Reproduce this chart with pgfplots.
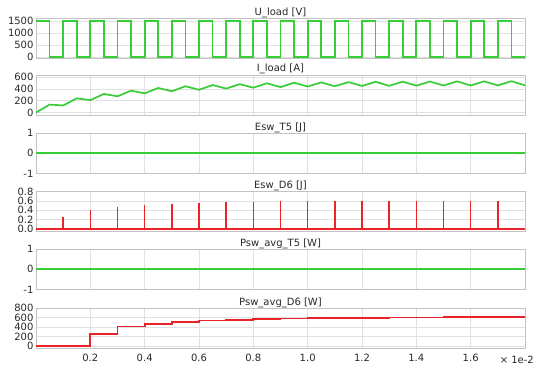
\documentclass[border=0pt]{standalone}
\usepackage{pgfplots}
\pgfplotsset{compat=1.18}
\usepackage{fontspec}
\setmainfont{DejaVu Sans}
\definecolor{lgreen}{RGB}{55,205,55}
\definecolor{lred}{RGB}{235,35,40}
\definecolor{gridc}{RGB}{225,225,225}
\definecolor{framec}{RGB}{195,195,195}
\definecolor{txt}{RGB}{40,40,40}
\pgfplotsset{panel/.style={
  scale only axis, width=489pt, height=40.5pt,
  xmin=0, xmax=1.8,
  xtick={0.2,0.4,0.6,0.8,1.0,1.2,1.4,1.6},
  xticklabels={},
  grid=major, major grid style={gridc, line width=0.6pt},
  axis line style={framec, line width=0.8pt},
  tick style={draw=none},
  tick label style={font=\fontsize{10}{11}\selectfont, text=txt},
  yticklabel style={xshift=1pt},
  /pgf/number format/assume math mode=true,
  /pgf/number format/1000 sep={},
  every axis title/.style={at={(0.5,1)}, anchor=base, yshift=3pt, inner sep=0pt, font=\fontsize{10}{11}\selectfont, text=txt},
  anchor=north west,
  clip mode=individual,
  every axis plot/.append style={line width=1.7pt, line join=miter},
}}
\begin{document}
\begin{tikzpicture}
\useasboundingbox (0,0) rectangle (533pt,365pt);
% U_load
\begin{axis}[panel, at={(36pt,347pt)}, ymin=-70, ymax=1620, ytick={0,500,1000,1500}, title={U\_load [V]}]
\addplot[lgreen, const plot] coordinates {
(0,1500)(0.05,0)(0.1,1500)(0.15,0)(0.2,1500)(0.25,0)(0.3,1500)(0.35,0)(0.4,1500)(0.45,0)
(0.5,1500)(0.55,0)(0.6,1500)(0.65,0)(0.7,1500)(0.75,0)(0.8,1500)(0.85,0)(0.9,1500)(0.95,0)
(1.0,1500)(1.05,0)(1.1,1500)(1.15,0)(1.2,1500)(1.25,0)(1.3,1500)(1.35,0)(1.4,1500)(1.45,0)
(1.5,1500)(1.55,0)(1.6,1500)(1.65,0)(1.7,1500)(1.75,0)(1.8,0)};
\end{axis}
% I_load
\begin{axis}[panel, at={(36pt,290pt)}, ymin=-50, ymax=635, ytick={0,200,400,600}, title={I\_load [A]}]
\addplot[lgreen] coordinates {
(0,0)(0.05,135)(0.1,120)(0.15,240)(0.2,210)(0.25,315)(0.3,275)(0.35,370)(0.4,325)(0.45,415)
(0.5,360)(0.55,445)(0.6,385)(0.65,465)(0.7,405)(0.75,480)(0.8,420)(0.85,495)(0.9,430)(0.95,505)
(1.0,440)(1.05,510)(1.1,445)(1.15,515)(1.2,450)(1.25,520)(1.3,452)(1.35,522)(1.4,455)(1.45,525)
(1.5,457)(1.55,527)(1.6,458)(1.65,528)(1.7,459)(1.75,530)(1.8,460)};
\end{axis}
% Esw_T5
\begin{axis}[panel, at={(36pt,232pt)}, ymin=-1, ymax=1, ytick={-1,0,1}, title={Esw\_T5 [J]}]
\addplot[lgreen] coordinates {(0,0)(1.8,0)};
\end{axis}
% Esw_D6
\begin{axis}[panel, at={(36pt,174pt)}, ymin=-0.05, ymax=0.81, ytick={0,0.2,0.4,0.6,0.8},
  yticklabel style={/pgf/number format/.cd, fixed, fixed zerofill, precision=1},
  title={Esw\_D6 [J]}]
\addplot[lred] coordinates {(0,0)(1.8,0)};
\addplot[lred, line width=1.4pt, ycomb] coordinates {
(0.1,0.257)(0.2,0.41)(0.3,0.47)(0.4,0.51)(0.5,0.535)(0.6,0.555)(0.7,0.57)(0.8,0.58)(0.9,0.588)
(1.0,0.593)(1.1,0.597)(1.2,0.600)(1.3,0.602)(1.4,0.604)(1.5,0.605)(1.6,0.606)(1.7,0.607)};
\end{axis}
% Psw_avg_T5
\begin{axis}[panel, at={(36pt,116pt)}, ymin=-1, ymax=1, ytick={-1,0,1}, title={Psw\_avg\_T5 [W]}]
\addplot[lgreen] coordinates {(0,0)(1.8,0)};
\end{axis}
% Psw_avg_D6
\begin{axis}[panel, at={(36pt,57pt)}, ymin=-50, ymax=800, ytick={0,200,400,600,800},
  xticklabels={0.2,0.4,0.6,0.8,1.0,1.2,1.4,1.6},
  xticklabel style={yshift=-2pt},
  title={Psw\_avg\_D6 [W]}]
\addplot[lred, const plot] coordinates {
(0,0)(0.2,260)(0.3,410)(0.4,470)(0.5,510)(0.6,535)(0.7,555)(0.8,570)(0.9,580)
(1.0,587)(1.1,592)(1.2,596)(1.3,599)(1.4,602)(1.5,604)(1.6,606)(1.7,608)(1.8,609)};
\node[anchor=north east, font=\fontsize{10}{11}\selectfont, text=txt, inner sep=0pt] at (rel axis cs:1,0) [yshift=-7pt, xshift=9pt] {× 1e-2};
\end{axis}
\end{tikzpicture}
\end{document}
